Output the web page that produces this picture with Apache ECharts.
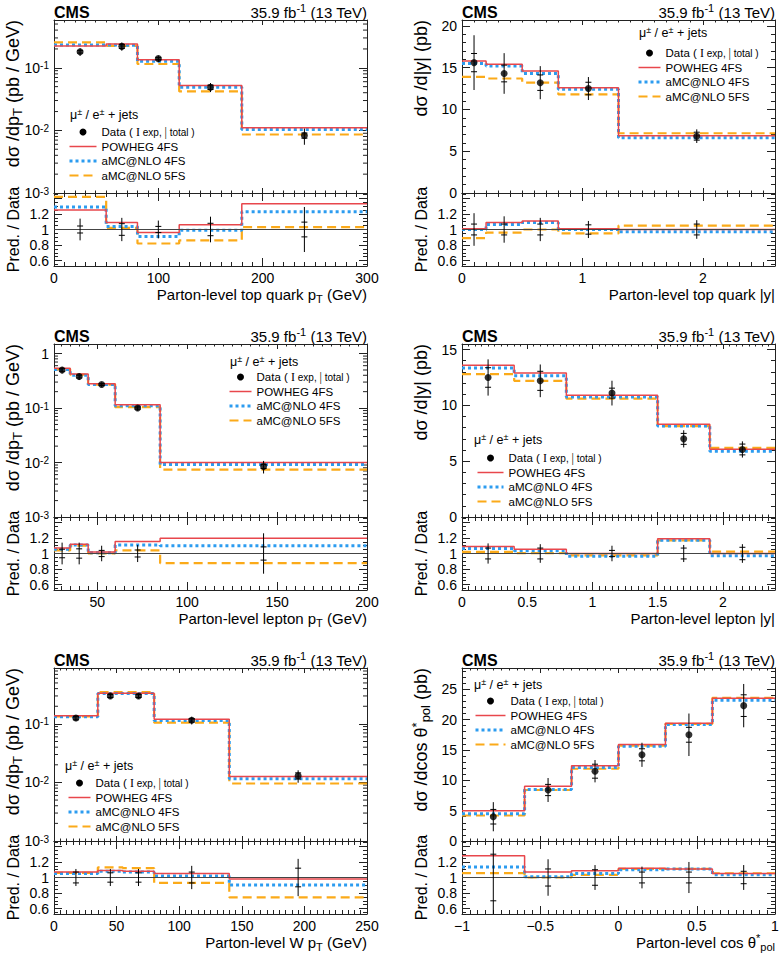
<!DOCTYPE html>
<html><head><meta charset="utf-8">
<script src="https://cdn.jsdelivr.net/npm/echarts@6/dist/echarts.min.js"></script>
<style>html,body{margin:0;padding:0;background:#fff}#c{width:779px;height:955px}</style>
</head><body><div id="c"></div>
<script>
// ---------------- DATA ----------------
// Panel 1: top quark pT
const topPtEdges = [0, 50, 80, 120, 180, 300];
const topPtData = [0.18, 0.22, 0.14, 0.049, 0.0083];
const topPtPowheg = [0.222, 0.24, 0.135, 0.052, 0.011];
const topPtAmc4 = [0.232, 0.228, 0.127, 0.049, 0.0103];
const topPtAmc5 = [0.255, 0.224, 0.115, 0.042, 0.0086];
const topPtRatioPowheg = [1.25, 1.09, 0.96, 1.06, 1.33];
const topPtRatioAmc4 = [1.29, 1.04, 0.91, 0.99, 1.23];
const topPtRatioAmc5 = [1.42, 1.02, 0.82, 0.86, 1.03];
const topPtErrTot = [0.14, 0.15, 0.115, 0.165, 0.29];
const topPtErrExp = [0.045, 0.075, 0.04, 0.08, 0.095];
// Panel 2: top quark |y|
const topYEdges = [0, 0.2, 0.5, 0.8, 1.3, 2.6];
const topYData = [15.6, 14.3, 13.2, 12.5, 6.8];
const topYPowheg = [15.8, 15.4, 14.6, 12.6, 6.85];
const topYAmc4 = [15.5, 15.2, 14.3, 12.4, 6.6];
const topYAmc5 = [13.9, 13.7, 13.2, 11.8, 7.15];
const topYRatioPowheg = [1.01, 1.09, 1.11, 1.01, 1.0];
const topYRatioAmc4 = [1.0, 1.065, 1.09, 1.0, 0.97];
const topYRatioAmc5 = [0.89, 0.96, 1.0, 0.95, 1.05];
const topYErrTot = [0.21, 0.17, 0.15, 0.11, 0.12];
const topYErrExp = [0.07, 0.07, 0.07, 0.06, 0.07];
// Panel 3: lepton pT
const lepPtEdges = [26, 35, 45, 60, 85, 200];
const lepPtData = [0.50, 0.38, 0.27, 0.10, 0.0085];
const lepPtPowheg = [0.54, 0.42, 0.28, 0.115, 0.0100];
const lepPtAmc4 = [0.51, 0.40, 0.27, 0.11, 0.0092];
const lepPtAmc5 = [0.52, 0.41, 0.27, 0.104, 0.0074];
const lepPtRatioPowheg = [1.07, 1.12, 1.02, 1.155, 1.195];
const lepPtRatioAmc4 = [1.055, 1.11, 1.01, 1.11, 1.10];
const lepPtRatioAmc5 = [1.04, 1.10, 1.0, 1.04, 0.875];
const lepPtErrTot = [0.14, 0.14, 0.10, 0.11, 0.26];
const lepPtErrExp = [0.055, 0.06, 0.04, 0.045, 0.085];
// Panel 4: lepton |y|
const lepYEdges = [0, 0.4, 0.8, 1.5, 1.9, 2.4];
const lepYData = [12.5, 12.2, 11.1, 7.0, 6.05];
const lepYPowheg = [13.6, 12.9, 10.9, 8.3, 6.08];
const lepYAmc4 = [13.35, 12.65, 10.75, 8.15, 5.9];
const lepYAmc5 = [12.8, 12.2, 10.6, 8.15, 6.2];
const lepYRatioPowheg = [1.09, 1.055, 1.0, 1.19, 1.0];
const lepYRatioAmc4 = [1.065, 1.035, 0.965, 1.17, 0.97];
const lepYRatioAmc5 = [1.02, 1.005, 0.975, 1.17, 1.025];
const lepYErrTot = [0.13, 0.12, 0.10, 0.11, 0.12];
const lepYErrExp = [0.07, 0.07, 0.04, 0.07, 0.08];
// Panel 5: W pT
const wPtEdges = [0, 35, 55, 80, 140, 250];
const wPtData = [0.126, 0.30, 0.30, 0.115, 0.013];
const wPtPowheg = [0.138, 0.335, 0.335, 0.12, 0.0126];
const wPtAmc4 = [0.132, 0.33, 0.33, 0.114, 0.0116];
const wPtAmc5 = [0.134, 0.35, 0.35, 0.105, 0.0096];
const wPtRatioPowheg = [1.07, 1.09, 1.08, 1.05, 0.98];
const wPtRatioAmc4 = [1.05, 1.08, 1.07, 1.02, 0.905];
const wPtRatioAmc5 = [1.06, 1.13, 1.12, 0.93, 0.745];
const wPtErrTot = [0.11, 0.11, 0.11, 0.15, 0.24];
const wPtErrExp = [0.07, 0.06, 0.06, 0.07, 0.12];
// Panel 6: cos theta*_pol
const cosEdges = [-1, -0.6, -0.3, 0, 0.3, 0.6, 1];
const cosData = [4.0, 8.4, 11.5, 14.2, 17.5, 22.3];
const cosPowheg = [5.0, 9.0, 12.4, 15.9, 19.4, 23.5];
const cosAmc4 = [4.5, 8.5, 12.1, 15.6, 19.2, 23.2];
const cosAmc5 = [4.2, 8.4, 11.9, 15.7, 19.3, 23.6];
const cosRatioPowheg = [1.28, 1.07, 1.087, 1.12, 1.11, 1.05];
const cosRatioAmc4 = [1.135, 1.01, 1.05, 1.10, 1.11, 1.035];
const cosRatioAmc5 = [1.057, 1.0, 1.035, 1.11, 1.11, 1.055];
const cosErrTot = [0.6, 0.235, 0.16, 0.14, 0.2, 0.16];
const cosErrExp = [0.3, 0.11, 0.10, 0.07, 0.07, 0.08];

// ---------------- LAYOUT / STYLE ----------------
const FONT = "'Liberation Sans', Arial, Helvetica, sans-serif";
const AXC = '#222';
const COL = {powheg: '#e8474c', amc4: '#2c9cf0', amc5: '#fbaa19'};
const colLeft = [54, 462];
const plotW = 313;
const rowTop = [20, 344, 668];
const mainH = 173, ratioH = 73;
const ratioMin = 0.53, ratioMax = 1.47;

const panels = [
  {col:0,row:0, edges:topPtEdges, data:topPtData, powheg:topPtPowheg, amc4:topPtAmc4, amc5:topPtAmc5,
   rPowheg:topPtRatioPowheg, rAmc4:topPtRatioAmc4, rAmc5:topPtRatioAmc5, tot:topPtErrTot, exp:topPtErrExp,
   x:{min:0,max:300,interval:100,step:100,minor:10}, y:{log:true,min:0.001,max:0.58},
   xTitle:'Parton-level top quark p{sub|T} (GeV)', yTitle:'dσ /dp{sub|T} (pb / GeV)',
   leg:{left:68, top:126, iw:27, hx:70, hy:115}},
  {col:1,row:0, edges:topYEdges, data:topYData, powheg:topYPowheg, amc4:topYAmc4, amc5:topYAmc5,
   rPowheg:topYRatioPowheg, rAmc4:topYRatioAmc4, rAmc5:topYRatioAmc5, tot:topYErrTot, exp:topYErrExp,
   x:{min:0,max:2.6,interval:1,step:1,minor:10}, y:{log:false,min:0,max:20.7},
   xTitle:'Parton-level top quark |y|', yTitle:'dσ /d|y| (pb)',
   leg:{left:637, top:47, iw:22, hx:639, hy:33}},
  {col:0,row:1, edges:lepPtEdges, data:lepPtData, powheg:lepPtPowheg, amc4:lepPtAmc4, amc5:lepPtAmc5,
   rPowheg:lepPtRatioPowheg, rAmc4:lepPtRatioAmc4, rAmc5:lepPtRatioAmc5, tot:lepPtErrTot, exp:lepPtErrExp,
   x:{min:26,max:200,split:3,step:50,minor:10}, y:{log:true,min:0.001,max:1.5},
   xTitle:'Parton-level lepton p{sub|T} (GeV)', yTitle:'dσ /dp{sub|T} (pb / GeV)',
   leg:{left:228, top:371, iw:22, hx:230, hy:362}},
  {col:1,row:1, edges:lepYEdges, data:lepYData, powheg:lepYPowheg, amc4:lepYAmc4, amc5:lepYAmc5,
   rPowheg:lepYRatioPowheg, rAmc4:lepYRatioAmc4, rAmc5:lepYRatioAmc5, tot:lepYErrTot, exp:lepYErrExp,
   x:{min:0,max:2.4,interval:0.5,step:0.5,minor:10}, y:{log:false,min:0,max:15.5},
   xTitle:'Parton-level lepton |y|', yTitle:'dσ /d|y| (pb)',
   leg:{left:476, top:452, iw:26, hx:474, hy:440}},
  {col:0,row:2, edges:wPtEdges, data:wPtData, powheg:wPtPowheg, amc4:wPtAmc4, amc5:wPtAmc5,
   rPowheg:wPtRatioPowheg, rAmc4:wPtRatioAmc4, rAmc5:wPtRatioAmc5, tot:wPtErrTot, exp:wPtErrExp,
   x:{min:0,max:250,interval:50,step:50,minor:10}, y:{log:true,min:0.001,max:0.9},
   xTitle:'Parton-level W p{sub|T} (GeV)', yTitle:'dσ /dp{sub|T} (pb / GeV)',
   leg:{left:67, top:777, iw:22, hx:65, hy:766}},
  {col:1,row:2, edges:cosEdges, data:cosData, powheg:cosPowheg, amc4:cosAmc4, amc5:cosAmc5,
   rPowheg:cosRatioPowheg, rAmc4:cosRatioAmc4, rAmc5:cosRatioAmc5, tot:cosErrTot, exp:cosErrExp,
   x:{min:-1,max:1,interval:0.5,step:0.5,minor:10}, y:{log:false,min:0,max:28.5},
   xTitle:'Parton-level cos θ{sup|*}{sub|pol}', yTitle:'dσ /dcos θ{sup|*}{sub|pol} (pb)',
   leg:{left:474, top:695, iw:30, hx:474, hy:685}}
];

// ---------------- HELPERS ----------------
function richFor(fs){
  return {
    sup:{fontSize:Math.round(fs*0.7), fontFamily:FONT, verticalAlign:'top', lineHeight:Math.round(fs*0.8), color:'#000'},
    sub:{fontSize:Math.round(fs*0.7), fontFamily:FONT, verticalAlign:'bottom', lineHeight:Math.round(fs*0.8), color:'#000'}
  };
}
function stepData(edges, vals){ return edges.map((e,i)=>[e, vals[Math.min(i, vals.length-1)]]); }
function centers(edges){ return edges.slice(0,-1).map((e,i)=>(e+edges[i+1])/2); }
function near(a,b){ return Math.abs(a-b) < 1e-6; }
function fmtNum(v){ return String(+v.toFixed(2)).replace('-', '−'); }

function errRender(params, api){
  const cs = params.coordSys;
  const x = api.value(0), v = api.value(1), tot = api.value(2), ex = api.value(3);
  const cl = y => Math.max(cs.y, Math.min(cs.y + cs.height, y));
  const pT = api.coord([x, v*(1+tot)]), pB = api.coord([x, v*(1-tot)]);
  const eT = api.coord([x, v*(1+ex)]), eB = api.coord([x, v*(1-ex)]);
  const st = {stroke:'#000', lineWidth:1};
  const ch = [{type:'line', shape:{x1:pT[0], y1:cl(pT[1]), x2:pB[0], y2:cl(pB[1])}, style:st}];
  [eT, eB].forEach(e => {
    if (e[1] >= cs.y && e[1] <= cs.y + cs.height)
      ch.push({type:'line', shape:{x1:e[0]-3, y1:e[1], x2:e[0]+3, y2:e[1]}, style:st});
  });
  return {type:'group', children:ch};
}
function minorLogRender(params, api){
  const cs = params.coordSys;
  const p = api.coord([api.value(0), api.value(1)]);
  const st = {stroke:AXC, lineWidth:1};
  return {type:'group', children:[
    {type:'line', shape:{x1:cs.x, y1:p[1], x2:cs.x+4, y2:p[1]}, style:st},
    {type:'line', shape:{x1:cs.x+cs.width-4, y1:p[1], x2:cs.x+cs.width, y2:p[1]}, style:st}
  ]};
}

const grids = [], xAxes = [], yAxes = [], series = [], legends = [], graphics = [];

function mkX(g, p, pos, labels, tl){
  const o = {type:'value', gridIndex:g, position:pos, min:p.x.min, max:p.x.max,
    axisLine:{show:true, onZero:false, lineStyle:{color:AXC, width:1}},
    axisTick:{show:true, inside:true, length:tl, lineStyle:{color:AXC, width:1}},
    minorTick:{show:true, splitNumber:p.x.minor, length:tl/2, lineStyle:{color:AXC, width:1}},
    splitLine:{show:false}, minorSplitLine:{show:false},
    axisLabel: labels ? {show:true, margin:5, fontFamily:FONT, fontSize:14, color:'#000',
      formatter: v => near(v/p.x.step, Math.round(v/p.x.step)) ? fmtNum(v) : ''} : {show:false}
  };
  if (p.x.interval) o.interval = p.x.interval; else o.splitNumber = p.x.split;
  return o;
}
function mkYMain(g, p, pos, labels){
  const base = {gridIndex:g, position:pos, min:p.y.min, max:p.y.max,
    axisLine:{show:true, onZero:false, lineStyle:{color:AXC, width:1}},
    axisTick:{show:true, inside:true, length:8, lineStyle:{color:AXC, width:1}},
    splitLine:{show:false}, minorSplitLine:{show:false}};
  if (p.y.log){
    Object.assign(base, {type:'log', logBase:10, minorTick:{show:false}});
    base.axisLabel = labels ? {show:true, margin:5, fontFamily:FONT, fontSize:14, color:'#000', rich:richFor(14),
      formatter: v => { const e = Math.log10(v), r = Math.round(e); if (Math.abs(e-r) > 1e-4) return ''; return r===0 ? '1' : '10{sup|' + r + '}'; }} : {show:false};
  } else {
    Object.assign(base, {type:'value', interval:5, minorTick:{show:true, splitNumber:5, length:4, lineStyle:{color:AXC, width:1}}});
    base.axisLabel = labels ? {show:true, margin:5, fontFamily:FONT, fontSize:14, color:'#000', showMaxLabel:false,
      formatter: v => near(v/5, Math.round(v/5)) ? String(Math.round(v)) : ''} : {show:false};
  }
  return base;
}
function mkYRatio(g, pos, labels){
  return {type:'value', gridIndex:g, position:pos, min:ratioMin, max:ratioMax, splitNumber:5,
    axisLine:{show:true, onZero:false, lineStyle:{color:AXC, width:1}},
    axisTick:{show:true, inside:true, length:8, lineStyle:{color:AXC, width:1}},
    minorTick:{show:true, splitNumber:4, length:4, lineStyle:{color:AXC, width:1}},
    splitLine:{show:false}, minorSplitLine:{show:false},
    axisLabel: labels ? {show:true, margin:5, fontFamily:FONT, fontSize:14, color:'#000', showMinLabel:false, showMaxLabel:false,
      formatter: v => [0.6,0.8,1,1.2].some(t => near(t,v)) ? fmtNum(v) : ''} : {show:false}
  };
}
function lineSeries(name, ax, edges, vals, kind){
  const ls = kind==='powheg' ? {color:COL.powheg, width:1.5, type:'solid'}
          : kind==='amc4' ? {color:COL.amc4, width:3, type:[3,3]}
          : {color:COL.amc5, width:2.2, type:[9,5]};
  return {type:'line', name, xAxisIndex:ax, yAxisIndex:ax, data:stepData(edges, vals), step:'end',
    symbol:'none', showSymbol:false, lineStyle:ls, itemStyle:{color:ls.color}, clip:true, silent:true, animation:false};
}

panels.forEach((p, i) => {
  const L = colLeft[p.col], T = rowTop[p.row];
  const gM = 2*i, gR = 2*i+1;
  grids.push({left:L, top:T, width:plotW, height:mainH, containLabel:false, outerBoundsMode:'none'});
  grids.push({left:L, top:T+mainH, width:plotW, height:ratioH, containLabel:false, outerBoundsMode:'none'});
  xAxes.push(mkX(gM, p, 'bottom', false, 5), mkX(gM, p, 'top', false, 5));
  xAxes.push(mkX(gR, p, 'bottom', true, 8), mkX(gR, p, 'top', false, 8));
  yAxes.push(mkYMain(gM, p, 'left', true), mkYMain(gM, p, 'right', false));
  yAxes.push(mkYRatio(gR, 'left', true), mkYRatio(gR, 'right', false));
  const axM = 2*gM, axR = 2*gR;
  const cx = centers(p.edges);

  // main pad
  series.push(lineSeries('aMC@NLO 5FS', axM, p.edges, p.amc5, 'amc5'));
  series.push(lineSeries('aMC@NLO 4FS', axM, p.edges, p.amc4, 'amc4'));
  series.push(lineSeries('POWHEG 4FS', axM, p.edges, p.powheg, 'powheg'));
  series.push({type:'custom', name:'Data errors', xAxisIndex:axM, yAxisIndex:axM, renderItem:errRender,
    dimensions:['x','v','tot','exp'], encode:{x:0, y:1},
    data: cx.map((c,k)=>[c, p.data[k], p.tot[k], p.exp[k]]), silent:true, animation:false, z:5});
  series.push({type:'scatter', name:'Data', xAxisIndex:axM, yAxisIndex:axM, data: cx.map((c,k)=>[c, p.data[k]]),
    symbol:'circle', symbolSize:7, itemStyle:{color:'#000'}, silent:true, animation:false, z:6});
  if (p.y.log){
    const ticks = [];
    for (let e = -3; e <= 0; e++) for (let m = 2; m <= 9; m++){ const v = m*Math.pow(10,e); if (v > p.y.min && v < p.y.max) ticks.push([p.x.min, v]); }
    series.push({type:'custom', name:'minor ticks', xAxisIndex:axM, yAxisIndex:axM, renderItem:minorLogRender,
      encode:{x:0,y:1}, data:ticks, silent:true, animation:false, z:1});
  }

  // ratio pad
  series.push({type:'line', name:'unity', xAxisIndex:axR, yAxisIndex:axR, data:[], silent:true, animation:false,
    markLine:{silent:true, symbol:['none','none'], label:{show:false}, animation:false,
      lineStyle:{color:'#444', width:1, type:'solid'}, data:[{yAxis:1}]}});
  series.push(lineSeries('aMC@NLO 5FS', axR, p.edges, p.rAmc5, 'amc5'));
  series.push(lineSeries('aMC@NLO 4FS', axR, p.edges, p.rAmc4, 'amc4'));
  series.push(lineSeries('POWHEG 4FS', axR, p.edges, p.rPowheg, 'powheg'));
  series.push({type:'custom', name:'Ratio errors', xAxisIndex:axR, yAxisIndex:axR, renderItem:errRender,
    dimensions:['x','v','tot','exp'], encode:{x:0, y:1},
    data: cx.map((c,k)=>[c, 1, p.tot[k], p.exp[k]]), silent:true, animation:false, z:5});

  // legend
  legends.push({show:true, orient:'vertical', left:p.leg.left, top:p.leg.top, padding:0,
    itemWidth:p.leg.iw, itemHeight:7, itemGap:2.5, selectedMode:false,
    data:[{name:'Data', icon:'circle', itemStyle:{color:'#000', opacity:1}},
          {name:'POWHEG 4FS', itemStyle:{opacity:0}, lineStyle:{width:1.5}},
          {name:'aMC@NLO 4FS', itemStyle:{opacity:0}, lineStyle:{width:3}},
          {name:'aMC@NLO 5FS', itemStyle:{opacity:0}, lineStyle:{width:2.2}}],
    formatter: n => n==='Data' ? '{n|Data ( }{i|I}{s| exp, }{i||}{s| total )}' : n,
    textStyle:{fontFamily:FONT, fontSize:11.5, color:'#000', lineHeight:12,
      rich:{n:{fontFamily:FONT, fontSize:11.5, color:'#000'}, s:{fontFamily:FONT, fontSize:10, color:'#000'},
            i:{fontFamily:"'Liberation Serif', serif", fontSize:12, color:'#000'}}}
  });

  // texts
  const R = L + plotW, RB = T + mainH + ratioH;
  graphics.push({type:'text', x:L, y:T-8, style:{text:'CMS', font:'bold 16px ' + FONT, fill:'#000', textAlign:'left', textVerticalAlign:'middle'}});
  graphics.push({type:'text', x:R, y:T-8, style:{text:'35.9 fb{sup|-1} (13 TeV)', font:'15px ' + FONT, fill:'#000', textAlign:'right', textVerticalAlign:'middle', lineHeight:19, rich:richFor(15)}});
  graphics.push({type:'text', x:R, y:RB+28, style:{text:p.xTitle, font:'15px ' + FONT, fill:'#000', textAlign:'right', textVerticalAlign:'middle', lineHeight:20, rich:richFor(15)}});
  graphics.push({type:'text', x:L-41, y:T, rotation:Math.PI/2, style:{text:p.yTitle, font:'18px ' + FONT, fill:'#000', textAlign:'right', textVerticalAlign:'middle', lineHeight:22, rich:richFor(18)}});
  graphics.push({type:'text', x:L-41, y:T+mainH+ratioH/2, rotation:Math.PI/2, style:{text:'Pred. / Data', font:'16px ' + FONT, fill:'#000', textAlign:'center', textVerticalAlign:'middle'}});
  graphics.push({type:'text', x:p.leg.hx, y:p.leg.hy, style:{text:'μ{sup|±} / e{sup|±} + jets', font:'12.5px ' + FONT, fill:'#000', textAlign:'left', textVerticalAlign:'middle', lineHeight:16, rich:richFor(12.5)}});
});

const chart = echarts.init(document.getElementById('c'), null, {renderer:'svg', width:779, height:955});
chart.setOption({
  animation:false, backgroundColor:'#fff',
  grid:grids, xAxis:xAxes, yAxis:yAxes, series:series, legend:legends,
  graphic:{elements:graphics}
});
</script></body></html>
